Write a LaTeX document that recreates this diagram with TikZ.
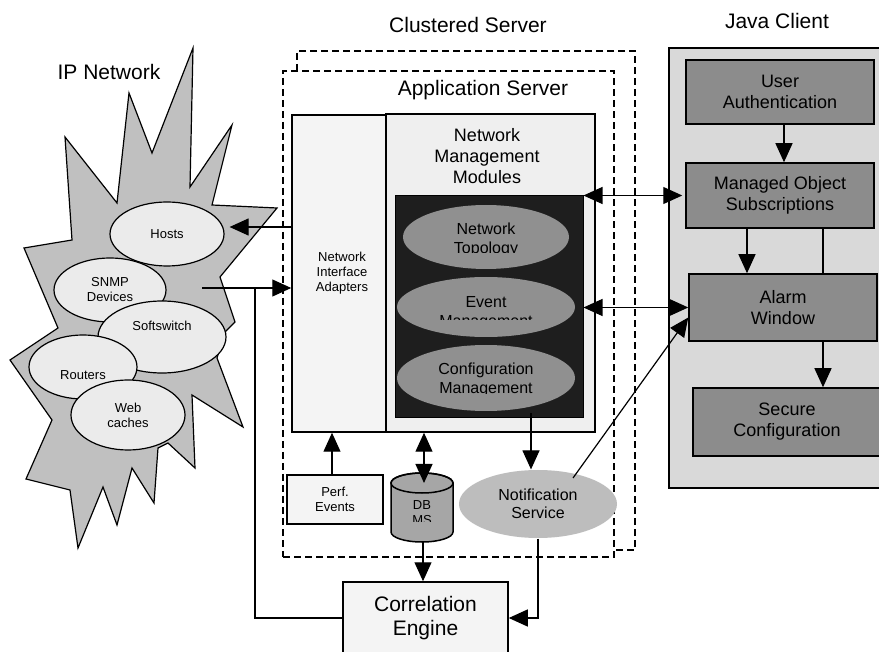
\documentclass[tikz,border=0pt]{standalone}
\usepackage{fontspec}
\setmainfont{Liberation Sans}
\usetikzlibrary{arrows.meta,shapes.geometric}

\definecolor{burst}{HTML}{C0C0C0}
\definecolor{devfill}{HTML}{EBEBEB}
\definecolor{paleA}{HTML}{F4F4F4}
\definecolor{paleB}{HTML}{EFEFEF}
\definecolor{coreblk}{HTML}{1E1E1E}
\definecolor{modfill}{HTML}{909090}
\definecolor{dbfill}{HTML}{A6A6A6}
\definecolor{notif}{HTML}{BDBDBD}
\definecolor{clientbg}{HTML}{D9D9D9}
\definecolor{clientbox}{HTML}{8C8C8C}

\newcommand\setfs[2]{\fontsize{#1}{#2}\selectfont}

\begin{document}
\begin{tikzpicture}[x=1pt,y=-1pt,line width=1.2pt,
  tip/.tip={Triangle[length=19pt,width=17pt]},
  arr/.style={-tip},
  darr/.style={tip-tip},
  title/.style={font=\setfs{21}{24},text height=15pt,text depth=0pt,inner sep=0pt},
  dev/.style={ellipse,draw,fill=devfill,inner sep=0pt,align=center,font=\setfs{13}{15}},
  box/.style={rectangle,draw,line width=1.5pt,inner sep=0pt,align=center},
  dbox/.style={rectangle,draw,line width=1.5pt,dash pattern=on 7pt off 4pt,inner sep=0pt},
  modell/.style={ellipse,fill=modfill,inner sep=0pt},
  modtxt/.style={inner sep=0pt,align=center,font=\setfs{16}{18.5}},
  jbox/.style={box,fill=clientbox,minimum width=188pt,font=\setfs{18}{21}},
]
\useasboundingbox (0,0) rectangle (879,652);

% ---------- IP network cloud ----------
\draw[fill=burst,line width=1.2pt,line join=miter]
  (193,48) -- (190,187) -- (232,125) -- (212,205) -- (277,208) -- (220,277)
  -- (235,322) -- (225,332) -- (217,358) -- (243,427) -- (192,395) -- (195,468)
  -- (168,443) -- (158,448) -- (154,503) -- (132,468) -- (117,525) -- (103,487)
  -- (78,548) -- (70,490) -- (26,479) -- (52,420) -- (10,360) -- (58,328)
  -- (24,248) -- (72,240) -- (65,137) -- (117,203) -- (129,93) -- (152,153)
  -- cycle;
\node[title] (ipnet) at (109,72) {IP Network};

\node[dev,minimum width=114pt,minimum height=64pt] (hosts) at (167,234) {Hosts};
\node[dev,minimum width=112pt,minimum height=64pt] (snmp) at (110,290) {SNMP\\Devices};
\node[dev,minimum width=128pt,minimum height=72pt,text depth=22pt] (soft) at (162,337) {Softswitch};
\node[dev,minimum width=108pt,minimum height=64pt,text height=25pt,text depth=0pt] (routers) at (83,367) {Routers};
\node[dev,minimum width=114pt,minimum height=70pt] (web) at (128,415) {Web\\caches};

% ---------- servers ----------
\node[dbox,minimum width=338pt,minimum height=499pt] (cluster) at (466,300.5) {};
\node[dbox,fill=white,minimum width=331pt,minimum height=486pt] (appsrv) at (448.5,314) {};
\node[title] (tcluster) at (468,25) {Clustered Server};
\node[title] (tapp) at (483,88) {Application Server};

\node[box,fill=paleA,minimum width=100pt,minimum height=317pt,font=\setfs{13}{15}] (nia) at (342,273.5) {Network\\Interface\\Adapters};
\node[box,fill=paleB,minimum width=209pt,minimum height=318pt] (nmm) at (490.5,273) {};
\node[modtxt,font=\setfs{18}{21}] (tnmm) at (487,156) {Network\\Management\\Modules};
\node[rectangle,fill=coreblk,draw,line width=1pt,minimum width=188pt,minimum height=222pt] (blk) at (489,307) {};

\node[modell,minimum width=166pt,minimum height=64pt] (topo) at (486,237) {};
\node[modell,minimum width=178pt,minimum height=60pt] (evm) at (486,307) {};
\node[modell,minimum width=178pt,minimum height=66pt] (cfg) at (486,378) {};
\begin{scope}
  \clip (395,200) rectangle (583,252.7);
  \node[modtxt] (ttopo) at (486,240) {Network\\Topology};
\end{scope}
\begin{scope}
  \clip (395,280) rectangle (583,320);
  \node[modtxt] (tevm) at (486,313) {Event\\Management};
\end{scope}
\begin{scope}
  \clip (395,350) rectangle (583,393.3);
  \node[modtxt] (tcfg) at (486,380) {Configuration\\Management};
\end{scope}

\node[box,fill=paleA,minimum width=96pt,minimum height=49pt,font=\setfs{13}{15}] (perf) at (335,499.5) {Perf.\\Events};

% DBMS drum
\node[inner sep=0pt,minimum width=62pt,minimum height=69pt] (db) at (422,507.5) {};
\draw[fill=dbfill,line width=1.5pt]
  (391,483) -- (391,532) arc[start angle=180,end angle=360,x radius=31pt,y radius=10pt]
  -- (453,483) arc[start angle=0,end angle=180,x radius=31pt,y radius=10pt] -- cycle;
\draw[line width=1.5pt] (422,483) ellipse[x radius=31pt,y radius=10pt];
\begin{scope}
  \clip (391,495) rectangle (453,521.5);
  \node[inner sep=0pt,align=center,font=\setfs{13}{15}] (tdb) at (422,513) {DB\\MS};
\end{scope}

\node[ellipse,fill=notif,inner sep=0pt,minimum width=158pt,minimum height=68pt,align=center,font=\setfs{16}{18.5}] (ns) at (538,504) {Notification\\Service};

\node[box,fill=paleA,minimum width=165pt,minimum height=72pt,font=\setfs{21}{24}] (ce) at (425.5,618) {Correlation\\Engine};

% ---------- Java client ----------
\node[rectangle,draw,line width=1.2pt,fill=clientbg,minimum width=226pt,minimum height=440pt] (jc) at (782,268) {};
\node[title] (tjc) at (777,21) {Java Client};
\node[jbox,minimum height=64pt] (ua) at (780,92) {User\\Authentication};
\node[jbox,minimum height=65pt] (mos) at (780,195.5) {Managed Object\\Subscriptions};
\node[jbox,minimum height=67pt] (aw) at (783,307.5) {Alarm\\Window};
\node[jbox,minimum height=68pt] (sc) at (787,422) {Secure\\Configuration};

% ---------- connectors ----------
\coordinate (hk) at ([xshift=5pt,yshift=7pt]hosts.east);
\draw[arr] (nia.west |- hk) -- (hk);
\coordinate (src) at (202,288);
\coordinate (jn) at (255,288);
\draw[arr] (src) -- (nia.west |- src);
\draw (ce.west) -| (jn);

\coordinate (pa) at (332,475);
\draw[arr] (pa) -- (pa |- nia.south);
\coordinate (dtop) at (424,483);
\draw[darr] (dtop |- nmm.south) -- (dtop);
\coordinate (dbot) at (423,542);
\draw[arr] (dbot) -- (dbot |- ce.north);

\draw[arr] ([xshift=42pt,yshift=5pt]blk.south) -- ([xshift=-7pt]ns.north);
\draw[arr] (ns.south) |- (ce.east);
\draw[arr] ([xshift=35pt,yshift=26pt]ns.center) -- ([yshift=-10pt]aw.west);

\draw[darr] (blk.east |- mos.west) -- ([xshift=-3pt]mos.west);
\draw[darr] (blk.east |- aw.west) -- (aw.west);

\draw[arr] ([xshift=4pt]ua.south) -- ([xshift=4pt]mos.north);
\draw[arr] ([xshift=-33pt]mos.south) -- ([xshift=-36pt]aw.north);
\draw ([xshift=43pt]mos.south) -- ([xshift=40pt]aw.north);
\draw[arr] ([xshift=40pt]aw.south) -- ([xshift=36pt]sc.north);
\end{tikzpicture}
\end{document}
